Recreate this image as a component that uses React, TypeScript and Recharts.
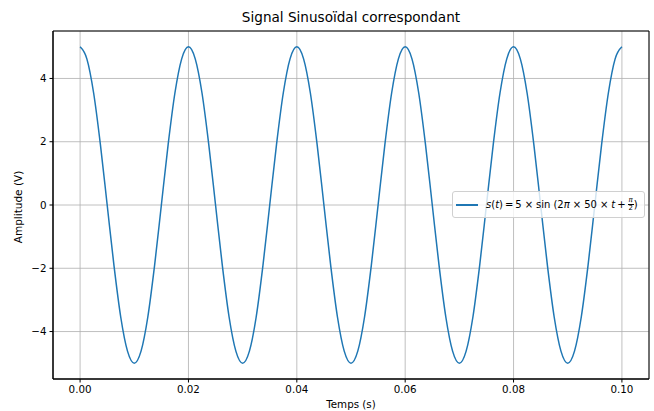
import React from 'react';
import {
  LineChart,
  Line,
  XAxis,
  YAxis,
  CartesianGrid,
  ReferenceArea,
} from 'recharts';

// sample times (s) and amplitudes (V)
const times = [
  0, 0.00125, 0.0025, 0.00375, 0.005, 0.00625, 0.0075, 0.00875,
  0.01, 0.01125, 0.0125, 0.01375, 0.015, 0.01625, 0.0175, 0.01875,
  0.02, 0.02125, 0.0225, 0.02375, 0.025, 0.02625, 0.0275, 0.02875,
  0.03, 0.03125, 0.0325, 0.03375, 0.035, 0.03625, 0.0375, 0.03875,
  0.04, 0.04125, 0.0425, 0.04375, 0.045, 0.04625, 0.0475, 0.04875,
  0.05, 0.05125, 0.0525, 0.05375, 0.055, 0.05625, 0.0575, 0.05875,
  0.06, 0.06125, 0.0625, 0.06375, 0.065, 0.06625, 0.0675, 0.06875,
  0.07, 0.07125, 0.0725, 0.07375, 0.075, 0.07625, 0.0775, 0.07875,
  0.08, 0.08125, 0.0825, 0.08375, 0.085, 0.08625, 0.0875, 0.08875,
  0.09, 0.09125, 0.0925, 0.09375, 0.095, 0.09625, 0.0975, 0.09875,
  0.1,
];

const amplitudes = [
  5, 4.62, 3.54, 1.91, 0, -1.91, -3.54, -4.62,
  -5, -4.62, -3.54, -1.91, 0, 1.91, 3.54, 4.62,
  5, 4.62, 3.54, 1.91, 0, -1.91, -3.54, -4.62,
  -5, -4.62, -3.54, -1.91, 0, 1.91, 3.54, 4.62,
  5, 4.62, 3.54, 1.91, 0, -1.91, -3.54, -4.62,
  -5, -4.62, -3.54, -1.91, 0, 1.91, 3.54, 4.62,
  5, 4.62, 3.54, 1.91, 0, -1.91, -3.54, -4.62,
  -5, -4.62, -3.54, -1.91, 0, 1.91, 3.54, 4.62,
  5, 4.62, 3.54, 1.91, 0, -1.91, -3.54, -4.62,
  -5, -4.62, -3.54, -1.91, 0, 1.91, 3.54, 4.62,
  5,
];

const xTicks = [0, 0.02, 0.04, 0.06, 0.08, 0.1];
const yTicks = [-4, -2, 0, 2, 4];

const data = times.map((t, i) => ({ t, s: amplitudes[i] }));

const FONT = '"DejaVu Sans", sans-serif';

// legend drawn as an overlay so it doesn't eat into the plot area
const LegendBox = () => (
  <div
    style={{
      position: 'absolute',
      left: 452,
      top: 191,
      width: 193,
      height: 27,
      boxSizing: 'border-box',
      display: 'flex',
      alignItems: 'center',
      background: 'rgba(255,255,255,0.8)',
      border: '1px solid #d0d0d0',
      borderRadius: 3,
      paddingLeft: 3,
      fontFamily: FONT,
      fontSize: 10,
      color: '#000',
      whiteSpace: 'nowrap',
    }}
  >
    <span style={{ display: 'inline-block', width: 22, height: 2, background: '#1f77b4', marginRight: 8 }} />
    <span style={{ display: 'inline-flex', alignItems: 'center' }}>
      <i>s</i>(<i>t</i>)<span style={{ margin: '0 2px' }}>=</span>5<span style={{ margin: '0 3px' }}>×</span>sin<span style={{ marginLeft: 3 }}>(</span>2<i>π</i>
      <span style={{ margin: '0 3px' }}>×</span>50<span style={{ margin: '0 3px' }}>×</span><i>t</i>
      <span style={{ margin: '0 2px' }}>+</span>
      <span style={{ display: 'inline-flex', flexDirection: 'column', alignItems: 'center', fontSize: 7, lineHeight: '7px' }}>
        <i style={{ borderBottom: '0.6px solid #000', padding: '0 1px' }}>π</i>
        <span>2</span>
      </span>
      <span>)</span>
    </span>
  </div>
);

export default function App() {
  return (
    <div style={{ position: 'fixed', left: 0, top: 0, width: 654, height: 411, background: '#fff', fontFamily: FONT }}>
      <div style={{ position: 'absolute', left: 53, width: 596, top: 9, textAlign: 'center', fontSize: 13.6, color: '#000' }}>
        Signal Sinusoïdal correspondant
      </div>
      <div
        style={{
          position: 'absolute',
          left: 18,
          top: 207,
          transform: 'translate(-50%, -50%) rotate(-90deg)',
          fontSize: 10.5,
          whiteSpace: 'nowrap',
          color: '#000',
        }}
      >
        Amplitude (V)
      </div>
      <div style={{ position: 'absolute', left: 53, width: 596, top: 398, textAlign: 'center', fontSize: 10.3, color: '#000' }}>
        Temps (s)
      </div>
      <LineChart width={654} height={411} data={data} margin={{ top: 31, right: 5, bottom: 12, left: 13 }}>
        <CartesianGrid stroke="#b0b0b0" strokeWidth={0.8} />
        <XAxis
          dataKey="t"
          type="number"
          domain={[-0.005, 0.105]}
          ticks={xTicks}
          tickFormatter={(v: number) => v.toFixed(2)}
          allowDataOverflow
          height={20}
          tickSize={3.5}
          tickMargin={3}
          stroke="#000"
          tick={{ fill: '#000', fontSize: 10.3, fontFamily: FONT }}
        />
        <YAxis
          type="number"
          domain={[-5.5, 5.5]}
          ticks={yTicks}
          tickFormatter={(v: number) => (v < 0 ? '\u2212' + Math.abs(v) : String(v))}
          allowDataOverflow
          width={40}
          tickSize={3.5}
          tickMargin={3}
          stroke="#000"
          tick={{ fill: '#000', fontSize: 10.3, fontFamily: FONT }}
        />
        <ReferenceArea x1={-0.005} x2={0.105} y1={-5.5} y2={5.5} fill="none" stroke="#000" strokeWidth={1} />
        <Line
          dataKey="s"
          type="monotone"
          stroke="#1f77b4"
          strokeWidth={1.5}
          dot={false}
          isAnimationActive={false}
        />
      </LineChart>
      <LegendBox />
    </div>
  );
}
